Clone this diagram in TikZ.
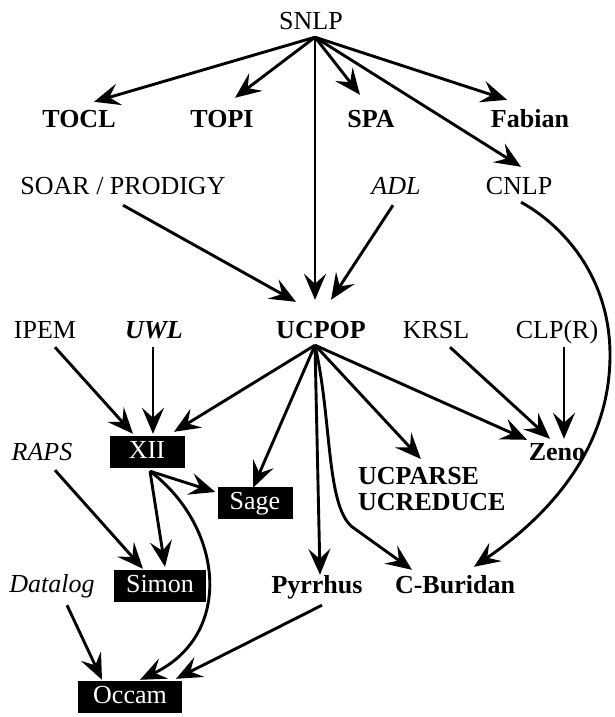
\documentclass[tikz,border=0pt]{standalone}
\usepackage{fontspec}
\setmainfont{Liberation Serif}
\usetikzlibrary{arrows.meta,calc}

\begin{document}
\begin{tikzpicture}[x=1pt,y=-1pt,
  lbl/.style={inner sep=0pt, text height=17pt, text depth=5pt, anchor=base,
    font=\fontsize{26}{27}\selectfont},
  lblb/.style={lbl, font=\fontsize{26}{27}\selectfont\bfseries},
  lbli/.style={lbl, font=\fontsize{26}{27}\selectfont\itshape},
  lblbi/.style={lbl, font=\fontsize{26}{27}\selectfont\bfseries\itshape},
  boxed/.style={fill=black, text=white, inner xsep=12pt, inner ysep=0pt,
    text height=17pt, text depth=5pt, minimum height=32pt,
    font=\fontsize{26}{27}\selectfont},
  link/.style={line width=2.9pt, -{Stealth[length=26pt,width=22pt,inset=10pt]}},
]
\fill[white] (0,0) rectangle (614,717);
\useasboundingbox (0,0) rectangle (614,717);

% labels
\node[lbl]  (snlp)   at (311,30)  {SNLP};
\node[lblb] (tocl)   at (79,127)  {TOCL};
\node[lblb] (topi)   at (222,127) {TOPI};
\node[lblb] (spa)    at (371,127) {SPA};
\node[lblb] (fabian) at (530,127) {Fabian};
\node[lbl]  (soar)   at (123,194) {SOAR / PRODIGY};
\node[lbli] (adl)    at (396,194) {ADL};
\node[lbl]  (cnlp)   at (519,194) {CNLP};
\node[lbl]  (ipem)   at (45,338)  {IPEM};
\node[lblbi](uwl)    at (154,338) {UWL};
\node[lblb] (ucpop)  at (321,338) {UCPOP};
\node[lbl]  (krsl)   at (436,338) {KRSL};
\node[lbl]  (clpr)   at (557,338) {CLP(R)};
\node[lbli] (raps)   at (42,460)  {RAPS};
\node[lblb] (zeno)   at (557,460) {Zeno};
\node[inner sep=0pt, anchor=north west, align=left,
      font=\fontsize{26}{26}\selectfont\bfseries]
            (ucparse) at (358,467) {UCPARSE\\UCREDUCE};
\node[lbli] (datalog)  at (52,592)  {Datalog};
\node[lblb] (pyrrhus)  at (317,593) {Pyrrhus};
\node[lblb] (cburidan) at (455,593) {C-Buridan};

% highlighted systems
\node[boxed, minimum width=75pt]  (xii)   at (147,452) {XII};
\node[boxed, minimum width=75pt]  (sage)  at (255,503) {Sage};
\node[boxed, minimum width=92pt]  (simon) at (160,586) {Simon};
\node[boxed, minimum width=104pt] (occam) at (130,697) {Occam};

% fan-out points
\coordinate (snlpo)  at ($(snlp.south)+(4,2)$);
\coordinate (ucpopo) at ($(ucpop.south)+(-6,2)$);
\coordinate (xiio)   at ($(xii.south)+(3,3)$);

% from SNLP
\draw[link] (snlpo) -- ($(tocl.north)+(15,-8)$);
\draw[link] (snlpo) -- ($(topi.north)+(13,-12)$);
\draw[link] (snlpo) -- ($(spa.north)+(-11,-15)$);
\draw[link] (snlpo) -- ($(fabian.north)+(-23,-10)$);
\draw[link] (snlpo) -- ($(cnlp.north)+(2,-10)$);
\draw[link] (snlpo) -- ($(ucpop.north)+(-6,-21)$);

% into UCPOP
\draw[link] ($(soar.south)+(0,6)$) -- ($(ucpop.north)+(-25,-19)$);
\draw[link] ($(adl.south)+(-3,6)$)  -- ($(ucpop.north)+(10,-21)$);

% CNLP to C-Buridan
\draw[link] ($(cnlp.south)+(2,3)$)
  .. controls +(40,22) and +(0,-80) .. (610,355)
  .. controls +(0,90) and +(80,-55) .. ($(cburidan.north)+(19,-9)$);

% into XII
\draw[link] ($(ipem.south)+(10,4)$) -- ($(xii.north)+(-14,-2)$);
\draw[link] ($(uwl.south)+(-1,4)$)  -- ($(xii.north)+(6,-2)$);
\draw[link] (ucpopo) -- ($(xii.north)+(27,-4)$);

% into Zeno
\draw[link] ($(krsl.south)+(14,4)$) -- ($(zeno.north)+(-7,-4)$);
\draw[link] ($(clpr.south)+(7,4)$)  -- ($(zeno.north)+(7,-4)$);
\draw[link] (ucpopo) -- ($(zeno.north)+(-30,-3)$);

% from UCPOP
\draw[link] (ucpopo) -- ($(sage.north)+(-2,1)$);
\draw[link] (ucpopo) -- ($(ucparse.north)+(-11,-8)$);
\draw[link] (ucpopo) -- ($(pyrrhus.north)+(3,-1)$);
\draw[link] (ucpopo) .. controls +(17,75) and +(-26,-22) .. ($(cburidan.north)+(-103,-49)$)
  -- ($(cburidan.north)+(-43,-6)$);

% into Simon
\draw[link] ($(raps.south)+(13,5)$) -- ($(simon.north)+(-17,-1)$);
\draw[link] (xiio) -- ($(simon.north)+(5,-3)$);

% from XII
\draw[link] (xiio) -- ($(sage.west)+(-2,-11)$);
\draw[link] (xiio) .. controls +(73,55) and +(95,-45) .. ($(occam.north)+(10,-1)$);

% into Occam
\draw[link] ($(datalog.south)+(15,8)$) -- ($(occam.north)+(-28,-1)$);
\draw[link] ($(pyrrhus.south)+(5,7)$)  -- ($(occam.north)+(46,-2)$);
\end{tikzpicture}
\end{document}
